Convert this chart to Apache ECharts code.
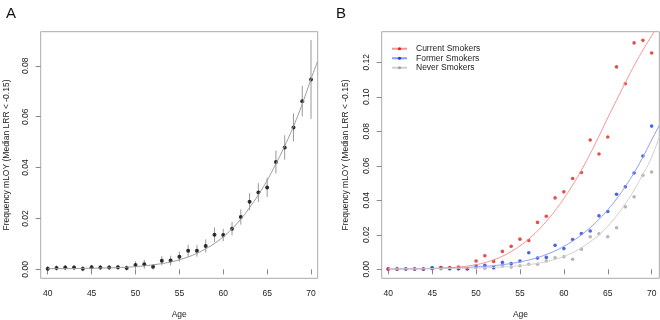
<!DOCTYPE html>
<html>
<head>
<meta charset="utf-8">
<script src="https://cdn.jsdelivr.net/npm/echarts@6/dist/echarts.min.js"></script>
<style>
    html, body { margin: 0; padding: 0; background: #fff; }
    #chart { width: 660px; height: 320px; }
</style>
</head>
<body>
<div id="chart"></div>
<script>
// ages of the points
var ages = [40, 41, 42, 43, 44, 45, 46, 47, 48, 49, 50, 51, 52, 53, 54, 55,
            56, 57, 58, 59, 60, 61, 62, 63, 64, 65, 66, 67, 68, 69, 70];

// panel A: frequency and error bar half width
var freqA = [0.0003, 0.0005, 0.0007, 0.0007, 0.0003, 0.0008, 0.0007, 0.0007, 0.0008, 0.0005,
             0.0017, 0.0020, 0.0010, 0.0034, 0.0035, 0.0050, 0.0073, 0.0073, 0.0092, 0.0136,
             0.0135, 0.0160, 0.0206, 0.0266, 0.0302, 0.0322, 0.0422, 0.0479, 0.0558, 0.0661, 0.0746];
var errA = [0.0010, 0.0010, 0.0010, 0.0010, 0.0010, 0.0010, 0.0010, 0.0010, 0.0010, 0.0010,
            0.0015, 0.0017, 0.0010, 0.0018, 0.0019, 0.0020, 0.0024, 0.0023, 0.0026, 0.0029,
            0.0024, 0.0026, 0.0030, 0.0034, 0.0037, 0.0038, 0.0045, 0.0048, 0.0055, 0.0060, 0.0155];

// panel A: fitted curve
var fitAgesA = [40, 42, 44, 46, 48, 50, 52, 54, 55, 56, 57, 58, 59, 60, 61, 62, 63, 64, 65, 66, 67, 68, 69, 70, 70.76];
var fitA = [0.0003, 0.0003, 0.0004, 0.0005, 0.0007, 0.0011, 0.0018, 0.0029, 0.0038, 0.0049, 0.0063, 0.0081,
            0.0102, 0.0128, 0.0160, 0.0198, 0.0243, 0.0293, 0.0350, 0.0415, 0.0485, 0.0562, 0.0650, 0.0748, 0.0818];

// panel B: points by smoking status
var current = [0.0002, 0.0002, 0.0002, 0.0002, 0.0002, 0.0004, 0.0010, 0.0010, 0.0013, 0.0004,
               0.0048, 0.0079, 0.0046, 0.0104, 0.0133, 0.0175, 0.0167, 0.0272, 0.0308, 0.0414,
               0.0449, 0.0526, 0.0561, 0.0749, 0.0668, 0.0767, 0.1173, 0.1075, 0.1312, 0.1327, 0.1254];
var former = [0.0002, 0.0002, 0.0002, 0.0002, 0.0002, 0.0010, 0.0009, 0.0004, 0.0004, 0.0003,
              0.0019, 0.0023, 0.0010, 0.0040, 0.0033, 0.0048, 0.0096, 0.0065, 0.0069, 0.0139,
              0.0120, 0.0173, 0.0208, 0.0222, 0.0310, 0.0335, 0.0435, 0.0478, 0.0558, 0.0657, 0.0830];
var never = [0.0001, 0.0001, 0.0002, 0.0002, 0.0001, 0.0005, 0.0003, 0.0003, 0.0002, 0.0002,
             0.0010, 0.0006, 0.0008, 0.0020, 0.0013, 0.0021, 0.0029, 0.0029, 0.0048, 0.0067,
             0.0073, 0.0058, 0.0117, 0.0189, 0.0206, 0.0189, 0.0241, 0.0362, 0.0420, 0.0545, 0.0564];

// panel B: fitted curves
var fitAgesB = [40, 42, 44, 46, 48, 50, 51, 52, 53, 54, 55, 56, 57, 58, 59, 60, 61, 62, 63, 64, 65, 66, 67, 68, 69, 70, 70.87];
var fitCurrent = [0.0002, 0.0003, 0.0004, 0.0007, 0.0013, 0.0027, 0.0039, 0.0055, 0.0076, 0.0103, 0.0136, 0.0176,
                  0.0223, 0.0278, 0.0340, 0.0410, 0.0488, 0.0575, 0.0670, 0.0772, 0.0878, 0.0980, 0.1082, 0.1180,
                  0.1270, 0.1354, 0.1425];
var fitFormer = [0.0002, 0.0003, 0.0004, 0.0006, 0.0009, 0.0014, 0.0017, 0.0021, 0.0027, 0.0034, 0.0043, 0.0054,
                 0.0068, 0.0086, 0.0107, 0.0133, 0.0164, 0.0200, 0.0242, 0.0290, 0.0345, 0.0408, 0.0480, 0.0560,
                 0.0650, 0.0750, 0.0834];
var fitNever = [0.0002, 0.0002, 0.0003, 0.0004, 0.0006, 0.0008, 0.0009, 0.0011, 0.0014, 0.0017, 0.0021, 0.0027,
                0.0035, 0.0045, 0.0058, 0.0075, 0.0097, 0.0125, 0.0160, 0.0200, 0.0250, 0.0310, 0.0380, 0.0460,
                0.0550, 0.0650, 0.0770];

var xTicks = [40, 45, 50, 55, 60, 65, 70];
var yTicksA = [0, 0.02, 0.04, 0.06, 0.08];
var yTicksB = [0, 0.02, 0.04, 0.06, 0.08, 0.10, 0.12];

var font = 'Liberation Sans, Arial, sans-serif';
var yTitle = 'Frequency mLOY (Median LRR < -0.15)';

function pairs(xs, ys) {
    return xs.map(function (x, i) { return [x, ys[i]]; });
}

function xAxisOpt(idx, min, max) {
    return {
        type: 'value', gridIndex: idx, min: min, max: max,
        name: 'Age', nameLocation: 'middle', nameGap: 32,
        nameTextStyle: { fontFamily: font, fontSize: 8.5, color: '#222' },
        splitLine: { show: false },
        axisLine: { show: false },
        axisTick: { show: true, length: 5, customValues: xTicks, lineStyle: { color: '#888' } },
        axisLabel: {
            customValues: xTicks, margin: 11, fontFamily: font, fontSize: 8.5, color: '#222',
            formatter: function (v) { return String(v); }
        }
    };
}

function yAxisOpt(idx, min, max, ticks, gap) {
    return {
        type: 'value', gridIndex: idx, min: min, max: max,
        name: yTitle, nameLocation: 'middle', nameGap: gap,
        nameTextStyle: { fontFamily: font, fontSize: 8.5, color: '#222' },
        splitLine: { show: false },
        axisLine: { show: false },
        axisTick: { show: true, length: 5, customValues: ticks, lineStyle: { color: '#888' } },
        axisLabel: {
            customValues: ticks, rotate: 90, margin: 10.5, fontFamily: font, fontSize: 8.5, color: '#222',
            formatter: function (v) { return v.toFixed(2); }
        }
    };
}

var chart = echarts.init(document.getElementById('chart'), null, { renderer: 'canvas' });

var option = {
    animation: false,
    title: [
        { text: 'A', left: 1, top: 1, textStyle: { fontFamily: font, fontSize: 15, fontWeight: 'normal', color: '#111' } },
        { text: 'B', left: 331, top: 1, textStyle: { fontFamily: font, fontSize: 15, fontWeight: 'normal', color: '#111' } }
    ],
    grid: [
        { left: 40.7, right: 342.3, top: 31.7, bottom: 41.7, show: true, borderColor: '#aaa', borderWidth: 1, outerBoundsMode: 'none' },
        { left: 381.7, right: 0.7, top: 31.7, bottom: 41.7, show: true, borderColor: '#aaa', borderWidth: 1, outerBoundsMode: 'none' }
    ],
    legend: {
        data: ['Current Smokers', 'Former Smokers', 'Never Smokers'],
        orient: 'vertical', left: 391, top: 44, padding: 0,
        itemWidth: 15, itemHeight: 4, itemGap: 0,
        selectedMode: false,
        textStyle: { fontFamily: font, fontSize: 8.5, color: '#222', lineHeight: 9.5, padding: [0, 0, 0, 4] }
    },
    xAxis: [xAxisOpt(0, 39.2, 70.76), xAxisOpt(1, 39.25, 70.87)],
    yAxis: [yAxisOpt(0, -0.0035, 0.0934, yTicksA, 30), yAxisOpt(1, -0.0052, 0.1377, yTicksB, 31.5)],
    series: [
        {
            type: 'line', xAxisIndex: 0, yAxisIndex: 0, data: pairs(fitAgesA, fitA),
            smooth: true, showSymbol: false, clip: true,
            lineStyle: { color: '#999', width: 1 }, silent: true
        },
        {
            type: 'custom', xAxisIndex: 0, yAxisIndex: 0,
            data: ages.map(function (a, i) { return [a, freqA[i] - errA[i], freqA[i] + errA[i]]; }),
            encode: { x: 0, y: [1, 2] },
            renderItem: function (params, api) {
                var p1 = api.coord([api.value(0), api.value(1)]);
                var p2 = api.coord([api.value(0), api.value(2)]);
                return {
                    type: 'line',
                    shape: { x1: p1[0], y1: p1[1], x2: p2[0], y2: p2[1] },
                    style: { stroke: '#999', lineWidth: 1 }
                };
            },
            silent: true
        },
        {
            type: 'scatter', xAxisIndex: 0, yAxisIndex: 0, data: pairs(ages, freqA),
            symbol: 'circle', symbolSize: 4, itemStyle: { color: '#000' }, silent: true
        },
        // panel B curves
        {
            name: 'Current Smokers', type: 'line', xAxisIndex: 1, yAxisIndex: 1,
            data: pairs(fitAgesB, fitCurrent), smooth: true, symbol: 'circle', showSymbol: false, clip: true,
            lineStyle: { color: '#f39393', width: 1 }, itemStyle: { color: '#e0221c' }, silent: true
        },
        {
            name: 'Former Smokers', type: 'line', xAxisIndex: 1, yAxisIndex: 1,
            data: pairs(fitAgesB, fitFormer), smooth: true, symbol: 'circle', showSymbol: false, clip: true,
            lineStyle: { color: '#8e9cf2', width: 1 }, itemStyle: { color: '#1d3fd8' }, silent: true
        },
        {
            name: 'Never Smokers', type: 'line', xAxisIndex: 1, yAxisIndex: 1,
            data: pairs(fitAgesB, fitNever), smooth: true, symbol: 'circle', showSymbol: false, clip: true,
            lineStyle: { color: '#cfcfcf', width: 1 }, itemStyle: { color: '#a3a3a3' }, silent: true
        },
        // panel B points
        {
            type: 'scatter', xAxisIndex: 1, yAxisIndex: 1, data: pairs(ages, never),
            symbolSize: 3.6, itemStyle: { color: '#a3a3a3' }, silent: true
        },
        {
            type: 'scatter', xAxisIndex: 1, yAxisIndex: 1, data: pairs(ages, former),
            symbolSize: 3.6, itemStyle: { color: '#1d3fd8' }, silent: true
        },
        {
            type: 'scatter', xAxisIndex: 1, yAxisIndex: 1, data: pairs(ages, current),
            symbolSize: 3.6, itemStyle: { color: '#e0221c' }, silent: true
        }
    ]
};

chart.setOption(option);
</script>
</body>
</html>
